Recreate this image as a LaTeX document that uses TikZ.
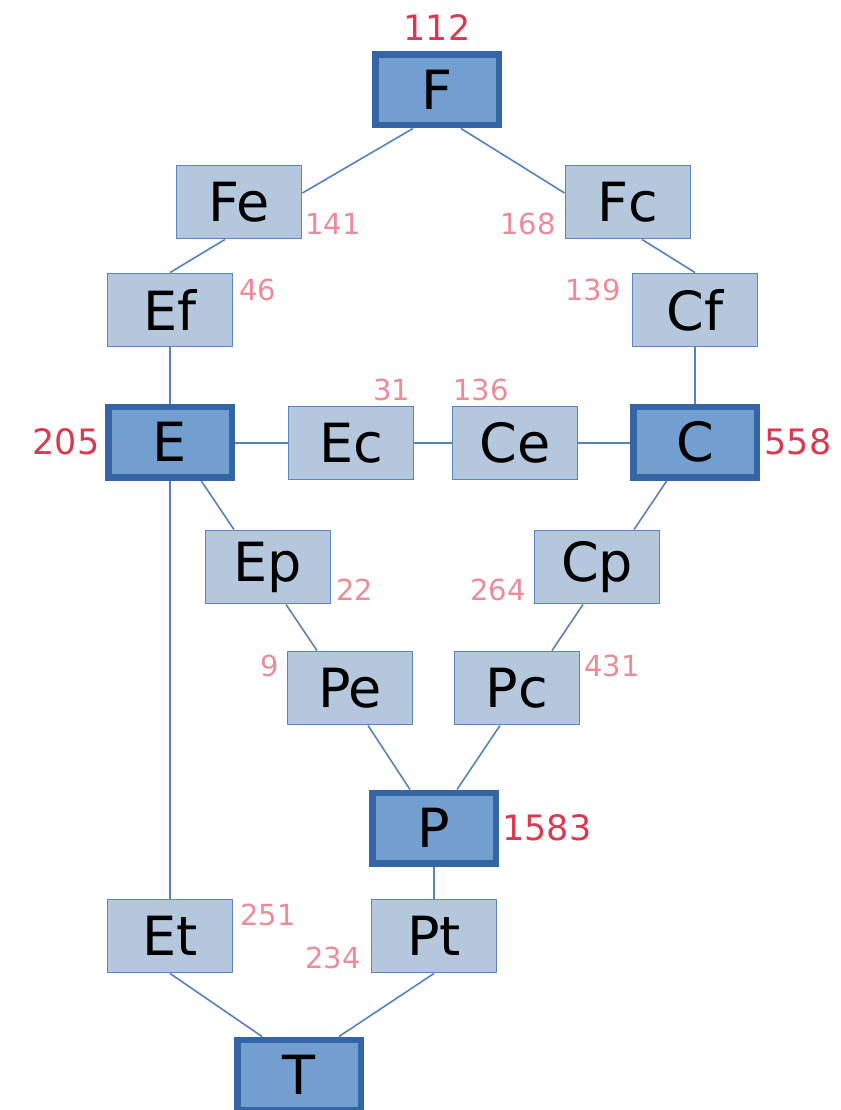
\documentclass[tikz,border=0pt]{standalone}
\usepackage{fontspec}
\setmainfont{DejaVu Sans}
\usetikzlibrary{calc,backgrounds}
\definecolor{lightfill}{HTML}{B4C7DD}
\definecolor{lightdraw}{HTML}{5A86C0}
\definecolor{darkfill}{HTML}{729FCF}
\definecolor{darkdraw}{HTML}{3465A4}
\definecolor{edgec}{HTML}{5582BE}
\definecolor{redc}{HTML}{D83A50}
\definecolor{pinkc}{HTML}{EC8C98}
\tikzset{
  lbox/.style={draw=lightdraw, fill=lightfill, line width=1.4pt, minimum width=125.5pt, minimum height=73.5pt, inner sep=0pt, font=\fontsize{54}{60}\selectfont},
  dbox/.style={draw=darkdraw, fill=darkfill, line width=6.5pt, minimum width=123.5pt, minimum height=70.5pt, inner sep=0pt, font=\fontsize{54}{60}\selectfont},
  bignum/.style={text=redc, inner sep=0pt, font=\fontsize{35}{40}\selectfont},
  smallnum/.style={text=pinkc, inner sep=0pt, font=\fontsize{29}{34}\selectfont},
  conn/.style={draw=edgec, line width=1.6pt}
}
\begin{document}
\begin{tikzpicture}[x=1pt,y=-1pt]
\useasboundingbox (0,0) rectangle (840,1110);
% main nodes
\node[dbox] (F) at (437,90) {F};
\node[lbox] (Fe) at (239,202) {Fe};
\node[lbox] (Fc) at (628,202) {Fc};
\node[lbox] (Ef) at (170,310) {Ef};
\node[lbox] (Cf) at (695,310) {Cf};
\node[dbox] (E) at (170,442) {E};
\node[lbox] (Ec) at (351,443) {Ec};
\node[lbox] (Ce) at (515,443) {Ce};
\node[dbox] (C) at (695,442) {C};
\node[lbox] (Ep) at (268,567) {Ep};
\node[lbox] (Cp) at (597,567) {Cp};
\node[lbox] (Pe) at (350,688) {Pe};
\node[lbox] (Pc) at (517,688) {Pc};
\node[dbox] (P) at (434,828) {P};
\node[lbox] (Et) at (170,936) {Et};
\node[lbox] (Pt) at (434,936) {Pt};
\node[dbox] (T) at (299,1075) {T};
% numbers
\node[bignum] (nF) at (437,28) {112};
\node[smallnum] (nFe) at (333,224) {141};
\node[smallnum] (nFc) at (528,224) {168};
\node[smallnum] (nEf) at (258,290) {46};
\node[smallnum] (nCf) at (593,290) {139};
\node[bignum] (nE) at (66,442) {205};
\node[smallnum] (nEc) at (392,390) {31};
\node[smallnum] (nCe) at (481,390) {136};
\node[bignum] (nC) at (798,442) {558};
\node[smallnum] (nEp) at (355,590) {22};
\node[smallnum] (nCp) at (498,590) {264};
\node[smallnum] (nPe) at (270,666) {9};
\node[smallnum] (nPc) at (612,666) {431};
\node[bignum] (nP) at (547,828) {1583};
\node[smallnum] (nEt) at (268,915) {251};
\node[smallnum] (nPt) at (333,958) {234};
% connectors
\begin{pgfonlayer}{background}
\draw[conn] ($(F.south)+(-24,0)$) -- ($(Fe.east)+(0,-9)$);
\draw[conn] ($(F.south)+(24,0)$) -- ($(Fc.west)+(0,-9)$);
\draw[conn] ($(Fe.south)+(-14,0)$) -- (Ef.north);
\draw[conn] ($(Fc.south)+(14,0)$) -- (Cf.north);
\draw[conn] (Ef.south) -- (E.north);
\draw[conn] (Cf.south) -- (C.north);
\draw[conn] ($(E.east)+(0,1)$) -- (Ec.west);
\draw[conn] (Ec.east) -- (Ce.west);
\draw[conn] (Ce.east) -- ($(C.west)+(0,1)$);
\draw[conn] ($(E.south)+(31,0)$) -- ($(Ep.north)+(-34,0)$);
\draw[conn] ($(C.south)+(-28,0)$) -- ($(Cp.north)+(37,0)$);
\draw[conn] ($(Ep.south)+(18,0)$) -- ($(Pe.north)+(-33,0)$);
\draw[conn] ($(Cp.south)+(-14,0)$) -- ($(Pc.north)+(35,0)$);
\draw[conn] ($(Pe.south)+(18,0)$) -- ($(P.north)+(-24,0)$);
\draw[conn] ($(Pc.south)+(-17,0)$) -- ($(P.north)+(23,0)$);
\draw[conn] (E.south) -- (Et.north);
\draw[conn] (P.south) -- (Pt.north);
\draw[conn] (Et.south) -- ($(T.north)+(-37,0)$);
\draw[conn] (Pt.south) -- ($(T.north)+(40,0)$);
\end{pgfonlayer}
\end{tikzpicture}
\end{document}
